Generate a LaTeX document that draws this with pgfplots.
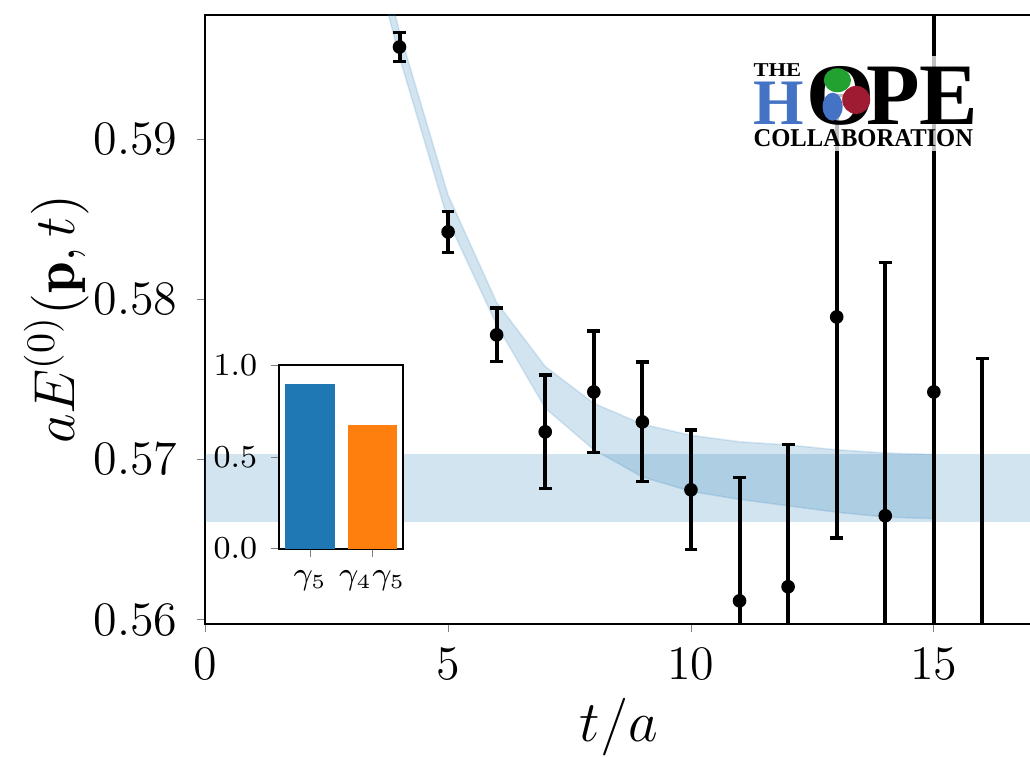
\documentclass[border=0pt]{standalone}
\usepackage{pgfplots}
\pgfplotsset{compat=1.18}
\usepackage{pgfplotstable}
\usepackage{graphicx}
\usepackage{fontspec}
\newfontfamily\logofont{Liberation Serif}

\definecolor{mplblue}{HTML}{1F77B4}
\definecolor{mplorange}{HTML}{FF7F0E}
\definecolor{logoblue}{HTML}{4472C4}
\definecolor{logogreen}{HTML}{22A030}
\definecolor{logored}{HTML}{9E1B32}

% effective energy, t/a vs value, symmetric error
\pgfplotstableread{
t E err
4  0.59574 0.00090
5  0.58420 0.00128
6  0.57777 0.00168
7  0.57172 0.00355
8  0.57421 0.00380
9  0.57234 0.00374
10 0.56810 0.00374
11 0.56117 0.00770
12 0.56205 0.00890
13 0.57889 0.01380
14 0.56648 0.01580
15 0.57421 0.02700
}\effmass
% last point lies below the plotted range
\pgfplotstableread{
t E err
16 0.55550 0.02080
}\effmasslow

\newcommand{\tickfont}{\fontsize{12.4}{14}\selectfont}
\newcommand{\xlabfont}{\fontsize{13.5}{15}\selectfont}
\newcommand{\ylabfont}{\fontsize{14.2}{16}\selectfont}
\newcommand{\smallfont}{\fontsize{7.6}{9}\selectfont}

\begin{document}
\begin{tikzpicture}
\begin{axis}[
  name=main, at={(0,0)}, anchor=south west,
  scale only axis, width=206.25pt, height=152pt,
  xmin=0, xmax=17, ymin=0.55975, ymax=0.59774,
  xtick={0,5,10,15}, ytick={0.56,0.57,0.58,0.59},
  xtick pos=left, ytick pos=left,
  tick align=outside, major tick length=2pt,
  scaled y ticks=false,
  tick label style={font=\tickfont},
  yticklabel style={xshift=-1.4pt, /pgf/number format/.cd, fixed, fixed zerofill, precision=2},
  xticklabel style={yshift=-0.6pt},
  xlabel={$t/a$}, ylabel={$aE^{(0)}(\mathbf{p},t)$},
  xlabel style={font=\xlabfont, at={(axis description cs:0.501,-0.170)}, anchor=center},
  ylabel style={font=\ylabfont, at={(axis description cs:-0.18,0.5)}, anchor=center},
  axis line style={line width=0.5pt},
  clip marker paths=true,
]
% plateau band
\addplot[draw=none, fill=mplblue, fill opacity=0.2] coordinates {
  (0,0.56610) (17,0.56610) (17,0.57034) (0,0.57034)};
% fit band, upper edge then lower edge back
\addplot[draw=mplblue, draw opacity=0.15, fill=mplblue, fill opacity=0.2] coordinates {
  (3.7,0.6003) (4,0.5967) (5,0.5865) (6,0.5798) (7,0.5758) (8,0.5735)
  (9,0.5722) (10,0.5715) (11,0.5711) (12,0.5709) (13,0.5706) (14,0.5704) (15,0.5703)
  (15,0.5663) (14,0.5664) (13,0.5667) (12,0.5671) (11,0.5675) (10,0.5680)
  (9,0.5689) (8,0.5706) (7,0.5732) (6,0.5784) (5,0.5849) (4,0.5951) (3.7,0.5986)};
% data
\addplot[black, only marks, mark=*, mark size=1.5pt,
  error bars/.cd, y dir=both, y explicit,
  error bar style={line width=1pt, black},
  error mark options={rotate=90, mark size=1.6pt, line width=0.8pt, black}]
  table[x=t, y=E, y error=err] {\effmass};
\addplot[black, only marks, mark=none,
  error bars/.cd, y dir=both, y explicit,
  error bar style={line width=1pt, black},
  error mark options={rotate=90, mark size=1.6pt, line width=0.8pt, black}]
  table[x=t, y=E, y error=err] {\effmasslow};
\end{axis}

\begin{axis}[
  at={(18.5pt,18.75pt)}, anchor=south west,
  scale only axis, width=31pt, height=45.75pt,
  xmin=-0.5, xmax=1.5, ymin=0, ymax=1,
  xtick={0,1}, xticklabels={$\gamma_5$, $\gamma_4\gamma_5$},
  ytick={0,0.5,1},
  yticklabel style={/pgf/number format/.cd, fixed, fixed zerofill, precision=1},
  xtick pos=left, ytick pos=left,
  tick align=outside, major tick length=2pt,
  tick label style={font=\smallfont},
  axis line style={line width=0.5pt},
  axis background/.style={fill=white},
  ybar, bar width=0.8,
]
\addplot[fill=mplblue, draw=none, bar shift=0pt] coordinates {(0,0.900)};
\addplot[fill=mplorange, draw=none, bar shift=0pt] coordinates {(1,0.672)};
\end{axis}

% collaboration logo
\fill[white, opacity=0.75] (135.25pt,118pt) rectangle (194.75pt,141.75pt);
\node[anchor=base west, inner sep=0] at (136.75pt,136.75pt)
  {\logofont\bfseries\fontsize{4.9}{5}\selectfont\scalebox{1.15}[1]{THE}};
\node[anchor=base west, inner sep=0, text=logoblue] at (136.75pt,124.75pt)
  {\logofont\bfseries\fontsize{16.2}{17}\selectfont H};
\node[anchor=base west, inner sep=0] at (150pt,124.75pt)
  {\logofont\bfseries\fontsize{21.9}{22}\selectfont O};
\fill[logogreen] (157.9pt,135.7pt) ellipse [x radius=3.4pt, y radius=3.0pt];
\fill[logoblue] (156.7pt,129.1pt) ellipse [x radius=2.5pt, y radius=3.5pt];
\fill[logored] (162.6pt,130.8pt) circle [radius=3.5pt];
\node[anchor=base east, inner sep=0] at (193.25pt,124.75pt)
  {\logofont\bfseries\fontsize{21.9}{22}\selectfont PE};
\node[anchor=base west, inner sep=0] at (136.75pt,119.25pt)
  {\logofont\bfseries\fontsize{6.4}{7}\selectfont\scalebox{0.96}[1]{COLLABORATION}};

\pgfresetboundingbox
\path[use as bounding box] (-51.25pt,-33.25pt) rectangle (206pt,155.75pt);
\end{tikzpicture}
\end{document}
